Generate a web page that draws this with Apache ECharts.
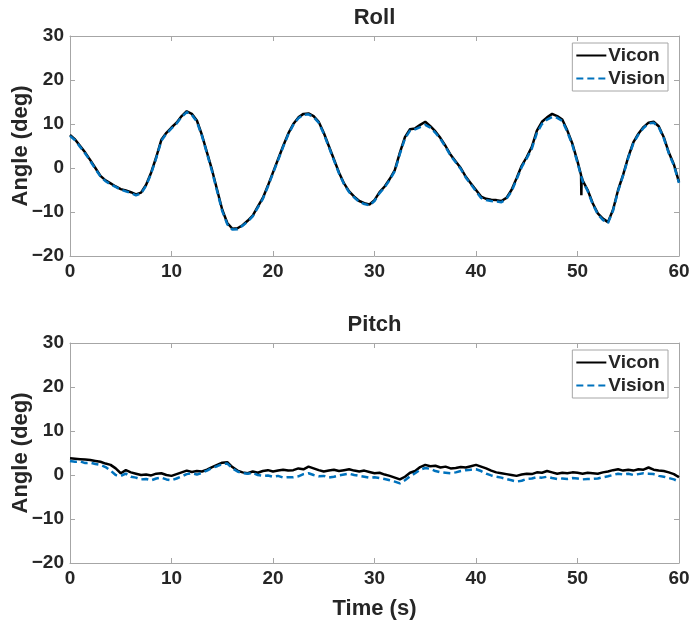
<!DOCTYPE html>
<html>
<head>
<meta charset="utf-8">
<script src="https://cdn.jsdelivr.net/npm/echarts@6/dist/echarts.min.js"></script>
<style>
html,body{margin:0;padding:0;background:#fff;}
#main{width:691px;height:626px;}
</style>
</head>
<body>
<div id="main"></div>
<script>
// sample times (s)
var timeS=[0,0.5,1,1.5,2,2.5,3,3.5,4,4.5,5,5.5,6,6.5,7,7.5,8,8.5,9,9.5,
	10,10.5,11,11.5,12,12.5,13,13.5,14,14.5,15,15.5,16,16.5,17,17.5,18,18.5,19,19.5,
	20,20.5,21,21.5,22,22.5,23,23.5,24,24.5,25,25.5,26,26.5,27,27.5,28,28.5,29,29.5,
	30,30.5,31,31.5,32,32.5,33,33.5,34,34.5,35,35.5,36,36.5,37,37.5,38,38.5,39,39.5,
	40,40.5,41,41.5,42,42.5,43,43.5,44,44.5,45,45.5,46,46.5,47,47.5,48,48.5,49,49.5,
	50,50.5,51,51.5,52,52.5,53,53.5,54,54.5,55,55.5,56,56.5,57,57.5,58,58.5,59,59.5,60];

var rollVicon=[7.5,6.5,5.0,3.5,1.8,0.0,-1.8,-2.8,-3.5,-4.2,-4.8,-5.1,-5.5,-6.0,-5.6,-3.8,-1.0,2.5,6.4,8.0,
	9.2,10.3,11.8,12.9,12.3,10.8,7.5,3.5,-0.5,-5.0,-9.5,-12.5,-13.8,-13.7,-13.0,-12.0,-10.8,-8.8,-6.8,-4.0,
	-1.0,2.0,5.0,7.8,10.0,11.5,12.3,12.4,11.8,10.5,8.0,5.0,2.0,-1.0,-3.5,-5.3,-6.5,-7.5,-8.0,-8.3,
	-7.3,-5.5,-4.2,-2.5,-0.5,3.5,7.0,8.8,9.0,9.8,10.5,9.5,8.3,6.8,5.0,3.0,1.5,0.0,-2.0,-3.5,
	-5.0,-6.5,-7.0,-7.2,-7.3,-7.5,-6.8,-5.0,-2.3,0.5,2.5,4.8,8.5,10.5,11.5,12.3,11.8,11.0,8.5,5.5,
	1.5,-2.8,-5.0,-8.0,-10.3,-11.5,-12.3,-9.5,-5.0,-1.5,2.5,5.8,7.8,9.3,10.3,10.5,9.5,7.0,3.5,0.8,-3.2];
// short glitch in the Vicon roll trace near t=50.4 s
var rollViconGlitch=[[50.35,-1.6],[50.38,-6.2],[50.41,-2.0]];

var rollVision=[7.3,6.3,4.8,3.3,1.6,-0.2,-1.9,-3.0,-3.7,-4.3,-4.9,-5.3,-5.7,-6.2,-5.8,-4.0,-1.2,2.3,6.2,7.8,
	9.0,10.1,11.6,12.7,12.1,10.5,7.3,3.3,-0.8,-5.3,-9.8,-12.8,-14.0,-13.9,-13.1,-12.2,-11.0,-9.0,-7.0,-4.2,
	-1.2,1.8,4.8,7.6,9.8,11.3,12.1,12.2,11.6,10.3,7.8,4.8,1.8,-1.2,-3.7,-5.5,-6.7,-7.7,-8.2,-8.5,
	-7.5,-5.7,-4.4,-2.7,-0.7,3.2,6.7,8.5,8.8,9.3,9.8,9.2,8.0,6.6,4.8,2.8,1.3,-0.2,-2.2,-3.7,
	-5.3,-6.8,-7.3,-7.5,-7.6,-7.8,-7.0,-5.3,-2.6,0.2,2.2,4.4,8.0,10.0,11.0,11.6,11.4,10.7,8.2,5.2,
	1.2,-3.0,-5.2,-8.2,-10.5,-11.8,-12.5,-9.7,-5.2,-1.7,2.3,5.6,7.6,9.1,10.1,10.3,9.3,6.8,3.3,0.6,-3.4];

var pitchVicon=[3.8,3.7,3.6,3.5,3.4,3.2,3.0,2.6,2.3,1.5,0.4,1.1,0.6,0.3,0.0,0.1,-0.1,0.3,0.4,0.0,
	-0.2,0.2,0.6,1.0,0.7,0.9,0.8,1.2,1.8,2.3,2.8,2.9,1.8,1.0,0.6,0.4,0.8,0.5,0.9,1.1,
	0.8,1.0,1.2,1.0,1.1,1.5,1.3,1.9,1.5,1.1,0.8,1.0,1.2,0.9,1.1,1.3,1.0,0.8,1.0,0.7,
	0.4,0.5,0.1,-0.2,-0.6,-1.0,-0.4,0.5,0.9,1.8,2.3,2.0,2.1,1.7,1.9,1.5,1.6,1.8,1.7,2.0,
	2.3,1.9,1.5,1.0,0.6,0.4,0.2,0.0,-0.2,0.1,0.3,0.2,0.6,0.5,0.9,0.6,0.3,0.5,0.4,0.6,
	0.5,0.3,0.5,0.4,0.3,0.6,0.8,1.1,1.3,1.0,1.2,1.0,1.3,1.2,1.7,1.2,1.0,0.9,0.6,0.2,-0.5];

var pitchVision=[3.2,3.0,3.1,2.7,2.8,2.5,2.3,1.8,1.0,0.0,-0.2,0.3,-0.4,-0.6,-1.0,-0.9,-1.2,-0.8,-0.6,-1.0,
	-1.2,-0.8,-0.3,0.2,0.4,0.1,0.5,1.0,1.6,2.0,2.5,2.6,1.5,0.8,0.4,0.3,0.5,0.0,-0.2,-0.1,
	-0.4,-0.2,-0.6,-0.5,-0.5,-0.3,0.2,0.4,0.0,-0.3,-0.2,-0.6,-0.4,-0.1,0.1,0.3,0.0,-0.2,-0.4,-0.6,
	-0.5,-0.7,-0.9,-1.2,-1.5,-1.9,-1.2,-0.3,0.4,1.2,1.6,1.4,0.9,0.6,0.5,0.4,0.6,0.9,1.1,1.2,
	1.3,0.9,0.3,-0.1,-0.4,-0.6,-0.9,-1.2,-1.5,-1.3,-0.9,-0.8,-0.5,-0.6,-0.4,-0.7,-0.9,-0.8,-0.9,-0.7,
	-0.8,-1.0,-0.9,-0.9,-0.8,-0.5,-0.3,0.0,0.3,0.1,0.3,0.0,0.2,0.4,0.3,0.2,-0.2,-0.4,-0.7,-1.0,-1.5];

var xTicks=[0,10,20,30,40,50,60];
var yTicks=[-20,-10,0,10,20,30];

var FONT='"Liberation Sans", Arial, Helvetica, sans-serif';
var TXT='#262626';
var AX='#a6a6a6';

var pairs=function(t,v){
	var out=[];
	for(var i=0;i<t.length;i++) out.push([t[i],v[i]]);
	return out;
};
var withGlitch=function(base,glitch){
	var out=base.concat(glitch);
	out.sort(function(a,b){return a[0]-b[0];});
	return out;
};
var minus=function(v){return String(v).replace('-','\u2212');};

var chart=echarts.init(document.getElementById('main'));

var xAxisFor=function(grid,pos,name,gap){
	var show=pos==='bottom';
	return {
		type:'value',gridIndex:grid,position:pos,
		min:xTicks[0],max:xTicks[xTicks.length-1],interval:10,
		name:name,nameLocation:'middle',nameGap:gap,nameMoveOverlap:false,
		nameTextStyle:{fontFamily:FONT,fontWeight:'bold',fontSize:22,color:TXT},
		axisLine:{show:true,onZero:false,lineStyle:{color:AX,width:1}},
		axisTick:{show:true,inside:true,length:5,lineStyle:{color:AX}},
		axisLabel:{show:show,margin:6,fontFamily:FONT,fontWeight:'bold',fontSize:19,color:TXT},
		splitLine:{show:false}
	};
};
var yAxisFor=function(grid,pos){
	var show=pos==='left';
	return {
		type:'value',gridIndex:grid,position:pos,
		min:yTicks[0],max:yTicks[yTicks.length-1],interval:10,
		name:show?'Angle (deg)':'',nameLocation:'middle',nameGap:38,nameMoveOverlap:false,
		nameTextStyle:{fontFamily:FONT,fontWeight:'bold',fontSize:22,color:TXT},
		axisLine:{show:true,onZero:false,lineStyle:{color:AX,width:1}},
		axisTick:{show:true,inside:true,length:5,lineStyle:{color:AX}},
		axisLabel:{show:show,margin:6,fontFamily:FONT,fontWeight:'bold',fontSize:19,color:TXT,
			formatter:minus},
		splitLine:{show:false}
	};
};
var legendFor=function(top){
	return {
		orient:'vertical',right:23,top:top,
		data:['Vicon','Vision'],
		backgroundColor:'#fff',borderColor:AX,borderWidth:1,
		padding:[3,3,3,3],itemGap:4,itemWidth:30,itemHeight:20,
		itemStyle:{opacity:0},
		textStyle:{fontFamily:FONT,fontWeight:'bold',fontSize:19,color:TXT,padding:[0,0,0,-3]}
	};
};
var lineSeries=function(name,idx,data,color,dash){
	return {
		name:name,type:'line',xAxisIndex:idx,yAxisIndex:idx,
		data:data,showSymbol:false,symbol:'none',animation:false,
		lineStyle:{color:color,width:2.5,type:dash?[7,4]:'solid'},
		itemStyle:{color:color}
	};
};

var option={
	backgroundColor:'#fff',
	grid:[
		{left:70,right:12,top:36,height:220,outerBoundsMode:'none',containLabel:false},
		{left:70,right:12,top:343,height:220,outerBoundsMode:'none',containLabel:false}
	],
	legend:[legendFor(43),legendFor(350)],
	xAxis:[
		xAxisFor(0,'bottom','',0),
		xAxisFor(1,'bottom','Time (s)',35),
		xAxisFor(0,'top','Roll',7),
		xAxisFor(1,'top','Pitch',7)
	],
	yAxis:[
		yAxisFor(0,'left'),
		yAxisFor(1,'left'),
		yAxisFor(0,'right'),
		yAxisFor(1,'right')
	],
	series:[
		lineSeries('Vicon',0,withGlitch(pairs(timeS,rollVicon),rollViconGlitch),'#000000',false),
		lineSeries('Vision',0,pairs(timeS,rollVision),'#0072BD',true),
		lineSeries('Vicon',1,pairs(timeS,pitchVicon),'#000000',false),
		lineSeries('Vision',1,pairs(timeS,pitchVision),'#0072BD',true)
	]
};
chart.setOption(option);
</script>
</body>
</html>
